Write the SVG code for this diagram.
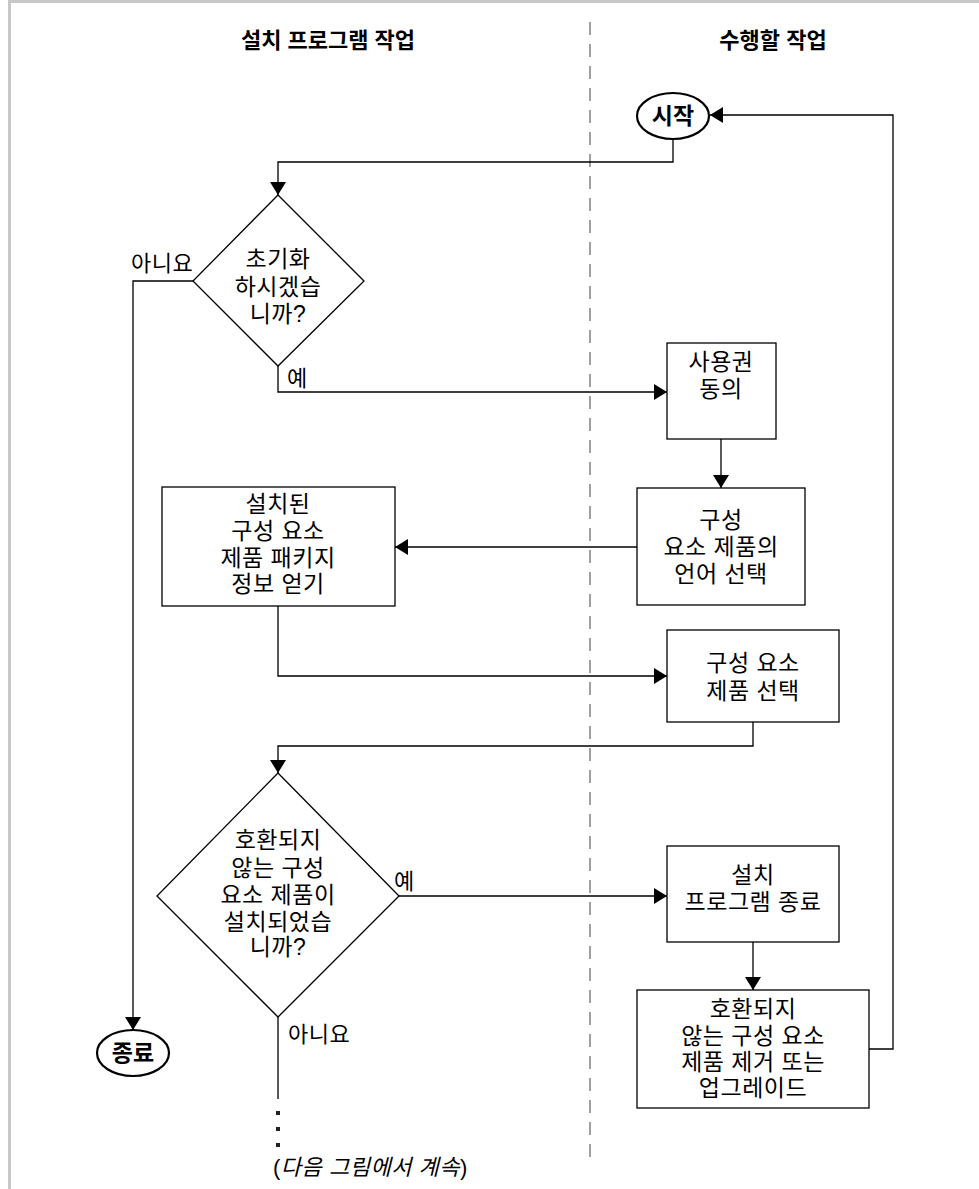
<svg xmlns="http://www.w3.org/2000/svg" width="979" height="1189" viewBox="0 0 979 1189">
<defs>
<style>
.t{font-family:"Liberation Sans","Noto Sans CJK KR",sans-serif;font-size:23px;letter-spacing:0.5px;fill:#000;text-anchor:middle}
.h{font-family:"Liberation Sans","Noto Sans CJK KR",sans-serif;font-size:22px;font-weight:bold;fill:#000;text-anchor:middle}
.b{font-family:"Liberation Sans","Noto Sans CJK KR",sans-serif;font-size:23px;font-weight:bold;fill:#000;text-anchor:middle}
.l{font-family:"Liberation Sans","Noto Sans CJK KR",sans-serif;font-size:22px;letter-spacing:0.5px;fill:#000}
.s{fill:#fff;stroke:#000;stroke-width:1.3}
.e{fill:#fff;stroke:#000;stroke-width:2.2}
.c{fill:none;stroke:#000;stroke-width:1.3}
</style>
<marker id="a" markerUnits="userSpaceOnUse" markerWidth="14" markerHeight="18" refX="13" refY="8" orient="auto">
<path d="M0,0 L13,8 L0,16 z" fill="#000"/>
</marker>
</defs>
<rect x="0" y="0" width="979" height="1189" fill="#fff"/>
<rect x="8" y="0" width="971" height="3" fill="#c8c8c8"/>
<rect x="8" y="0" width="3" height="1189" fill="#c8c8c8"/>
<line x1="590" y1="22" x2="590" y2="1165" stroke="#a0a0a0" stroke-width="2" stroke-dasharray="13,9"/>
<text class="h" x="328" y="48">설치 프로그램 작업</text>
<text class="h" x="773" y="48">수행할 작업</text>

<g id="connectors">
<polyline class="c" points="673,139 673,162 278,162 278,195" marker-end="url(#a)"/>
<polyline class="c" points="193,281 133,281 133,1030" marker-end="url(#a)"/>
<polyline class="c" points="278,366 278,392 667,392" marker-end="url(#a)"/>
<polyline class="c" points="721,439 721,488" marker-end="url(#a)"/>
<polyline class="c" points="637,547 395,547" marker-end="url(#a)"/>
<polyline class="c" points="278,606 278,676 667,676" marker-end="url(#a)"/>
<polyline class="c" points="753,722 753,746 278,746 278,773" marker-end="url(#a)"/>
<polyline class="c" points="399,896 667,896" marker-end="url(#a)"/>
<polyline class="c" points="753,942 753,990" marker-end="url(#a)"/>
<polyline class="c" points="869,1049 893,1049 893,115 710,115" marker-end="url(#a)"/>
<polyline class="c" points="278,1017 278,1099"/>
<rect x="276" y="1111" width="4" height="4" fill="#222"/>
<rect x="276" y="1127" width="4" height="4" fill="#222"/>
<rect x="276" y="1143" width="4" height="4" fill="#222"/>
<text class="l" x="131" y="271">아니요</text>
<text class="l" x="287" y="386">예</text>
<text class="l" x="394" y="889">예</text>
<text class="l" x="288" y="1042">아니요</text>
<text class="l" x="273" y="1175">(<tspan font-style="italic">다음 그림에서 계속</tspan>)</text>
</g>

<g id="start">
<ellipse class="e" cx="673" cy="116" rx="36" ry="23"/>
<text class="b" x="673" y="124">시작</text>
</g>

<g id="d1">
<polygon class="s" points="278,195 364,281 278,366 193,281"/>
<text class="t" x="278" y="267">초기화</text>
<text class="t" x="278" y="295">하시겠습</text>
<text class="t" x="278" y="322">니까?</text>
</g>

<g id="license">
<rect class="s" x="667" y="343" width="109" height="96"/>
<text class="t" x="721" y="370">사용권</text>
<text class="t" x="721" y="397">동의</text>
</g>

<g id="lang">
<rect class="s" x="637" y="488" width="168" height="117"/>
<text class="t" x="721" y="528">구성</text>
<text class="t" x="721" y="555">요소 제품의</text>
<text class="t" x="721" y="582">언어 선택</text>
</g>

<g id="info">
<rect class="s" x="162" y="487" width="233" height="119"/>
<text class="t" x="278" y="512">설치된</text>
<text class="t" x="278" y="539">구성 요소</text>
<text class="t" x="278" y="566">제품 패키지</text>
<text class="t" x="278" y="592">정보 얻기</text>
</g>

<g id="select">
<rect class="s" x="667" y="630" width="172" height="92"/>
<text class="t" x="753" y="671">구성 요소</text>
<text class="t" x="753" y="699">제품 선택</text>
</g>

<g id="d2">
<polygon class="s" points="278,773 399,896 278,1017 157,896"/>
<text class="t" x="278" y="848">호환되지</text>
<text class="t" x="278" y="876">않는 구성</text>
<text class="t" x="278" y="903">요소 제품이</text>
<text class="t" x="278" y="930">설치되었습</text>
<text class="t" x="278" y="955">니까?</text>
</g>

<g id="exit">
<rect class="s" x="667" y="846" width="172" height="96"/>
<text class="t" x="753" y="883">설치</text>
<text class="t" x="753" y="910">프로그램 종료</text>
</g>

<g id="remove">
<rect class="s" x="637" y="990" width="232" height="118"/>
<text class="t" x="753" y="1017">호환되지</text>
<text class="t" x="753" y="1044">않는 구성 요소</text>
<text class="t" x="753" y="1070">제품 제거 또는</text>
<text class="t" x="753" y="1096">업그레이드</text>
</g>

<g id="end">
<ellipse class="e" cx="133" cy="1053" rx="36" ry="23"/>
<text class="b" x="133" y="1061">종료</text>
</g>
</svg>
